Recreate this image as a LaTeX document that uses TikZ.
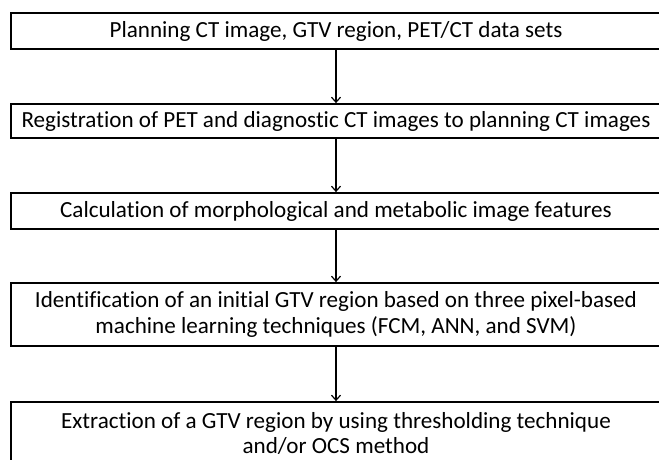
\documentclass[tikz,border=0pt]{standalone}
\usepackage{fontspec}
\setmainfont{Carlito}[Ligatures=NoCommon]
\usetikzlibrary{arrows.meta}
\begin{document}
\begin{tikzpicture}[x=1pt,y=-1pt,
  box/.style={draw, line width=1.8pt, minimum width=650pt, inner sep=0pt, align=center, font=\fontsize{23.1}{25.5}\selectfont},
  arr/.style={-{Straight Barb[length=5pt,width=9pt,line width=1.2pt]}, line width=1.2pt}]
\clip (0,0) rectangle (659,460);
\node[box, minimum height=36pt] (b1) at (336,31.3) {Planning CT image, GTV region, PET/CT data sets};
\node[box, minimum height=34pt] (b2) at (336,121) {Registration of PET and diagnostic CT images to planning CT images};
\node[box, minimum height=36pt] (b3) at (336,211) {Calculation of morphological and metabolic image features};
\node[box, minimum height=63pt] (b4) at (336,314.5) {Identification of an initial GTV region based on three pixel-based\\machine learning techniques (FCM, ANN, and SVM)};
\node[box, minimum height=63pt] (b5) at (336,433.5) {Extraction of a GTV region by using thresholding technique\\and/or OCS method};
\draw[arr] (b1.south) -- (b2.north);
\draw[arr] (b2.south) -- (b3.north);
\draw[arr] (b3.south) -- (b4.north);
\draw[arr] (b4.south) -- (b5.north);
\end{tikzpicture}
\end{document}
